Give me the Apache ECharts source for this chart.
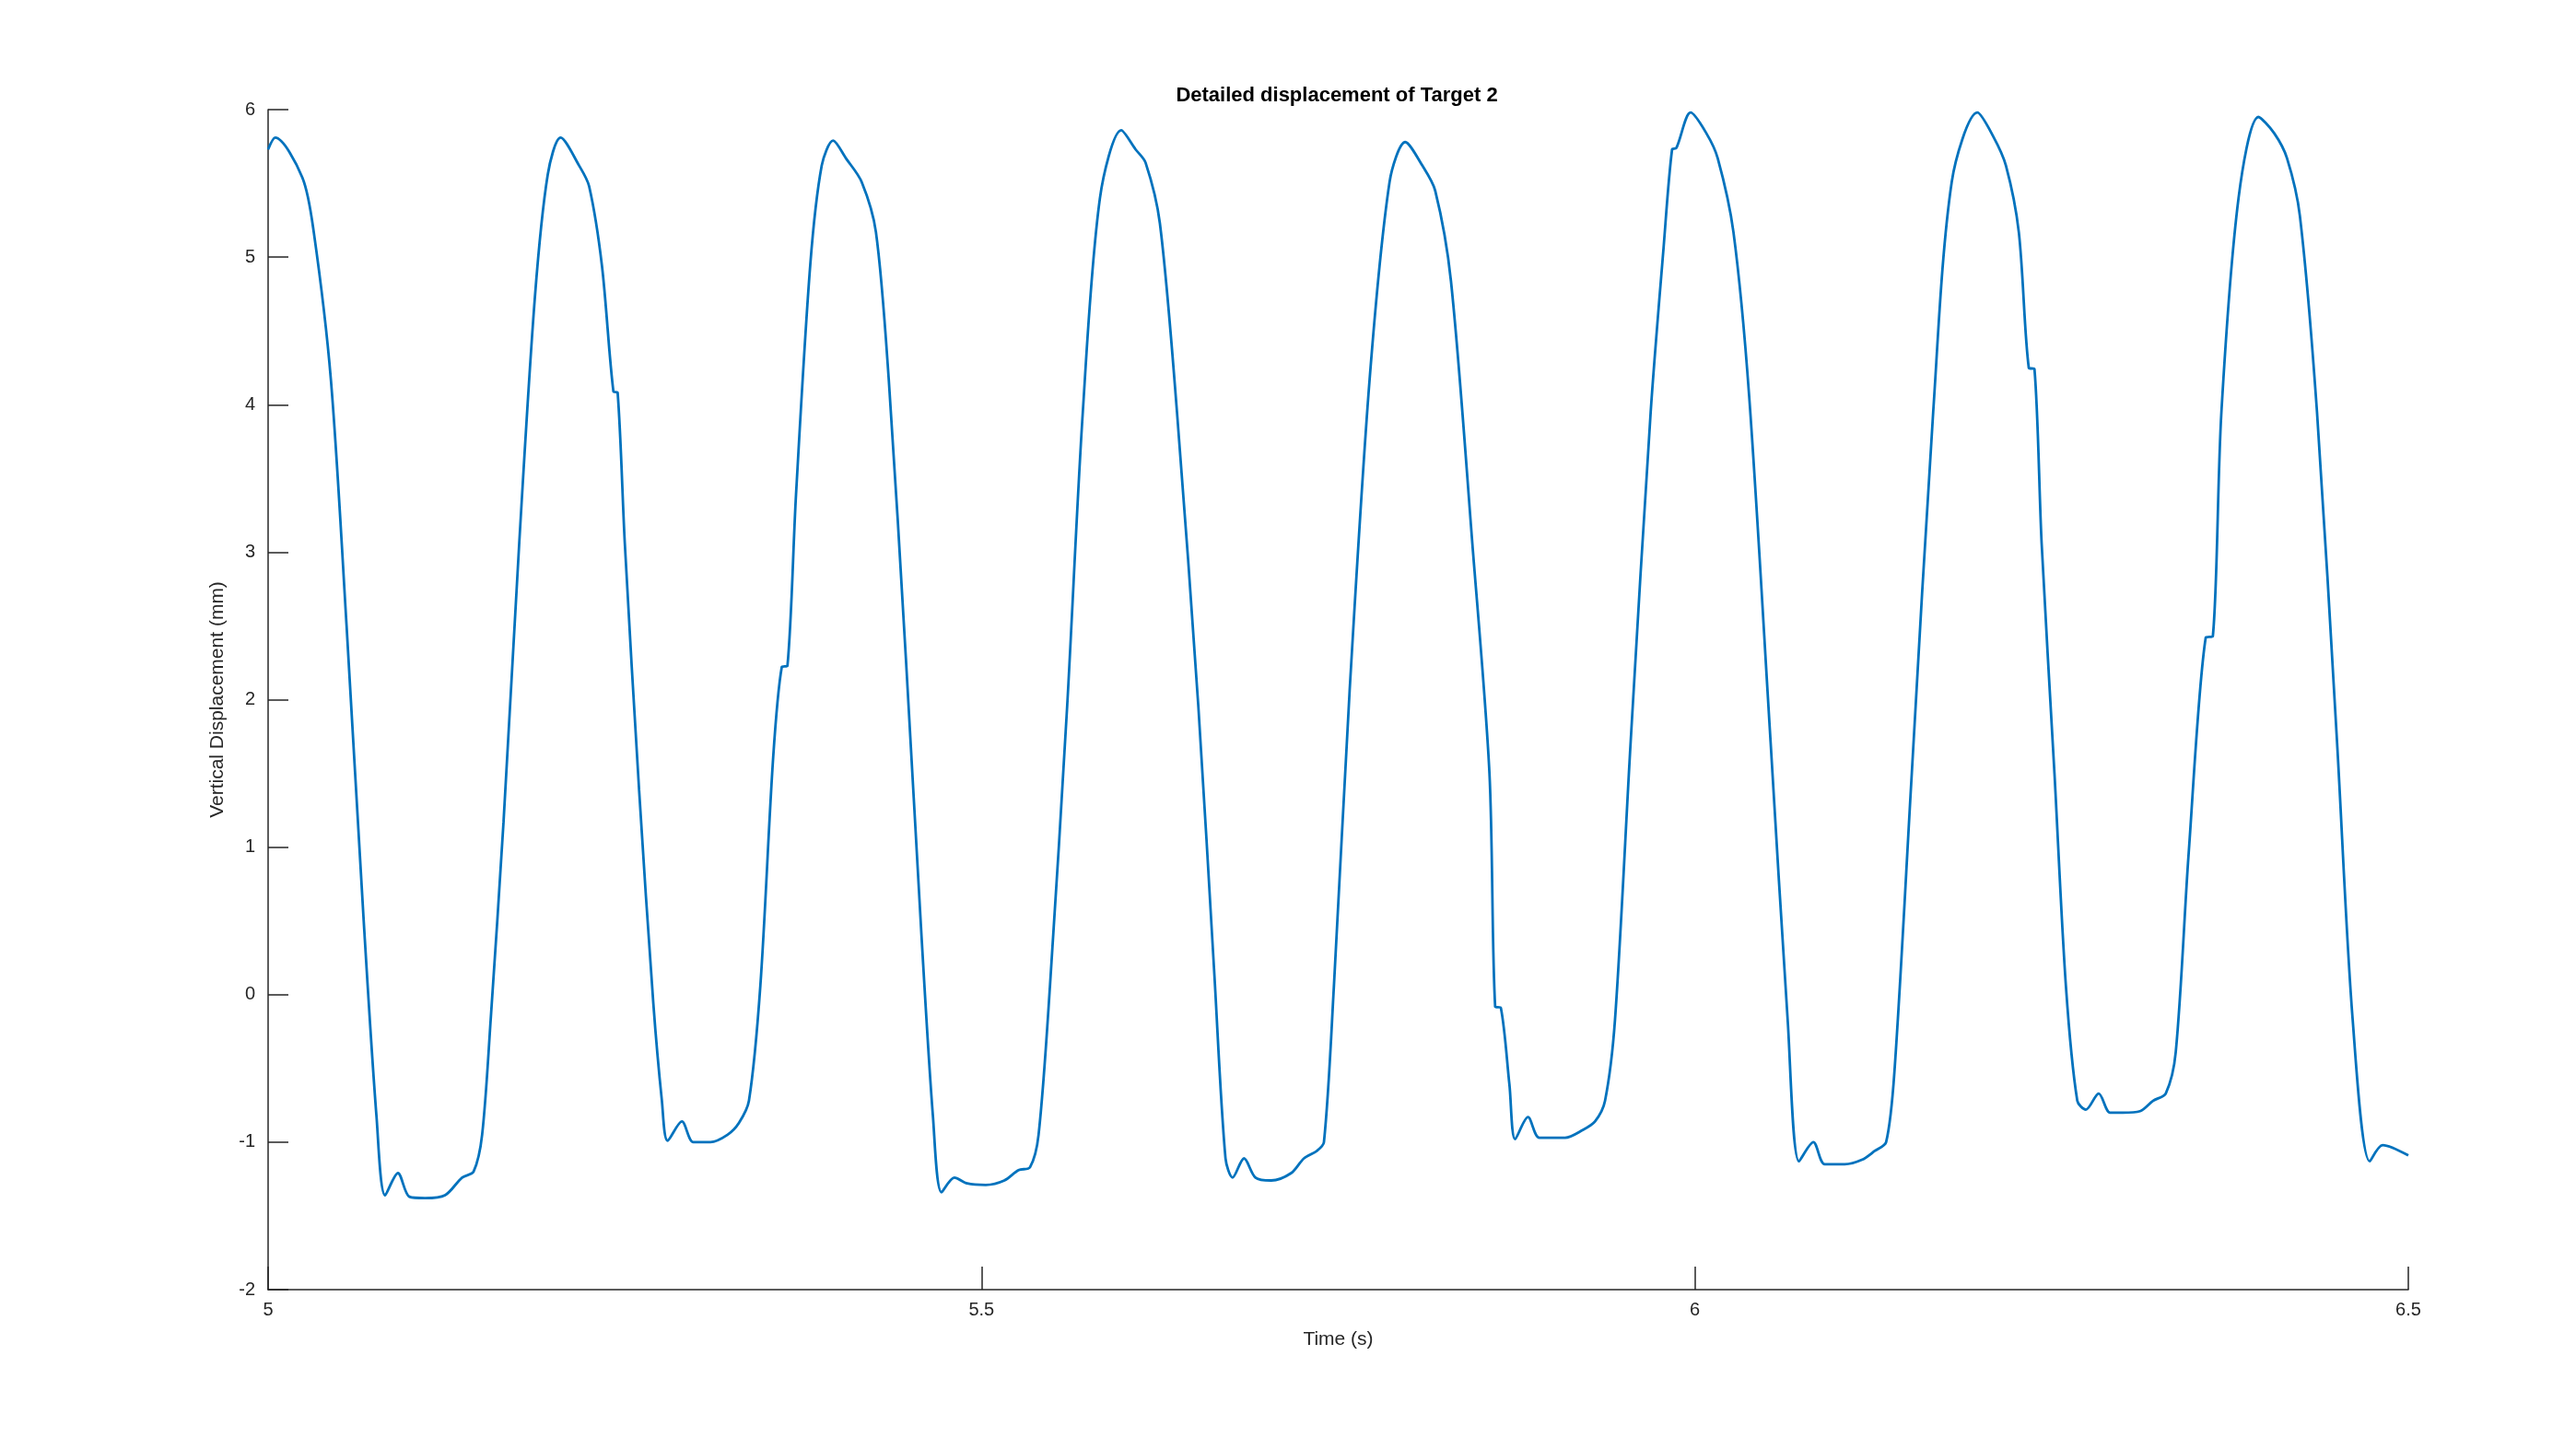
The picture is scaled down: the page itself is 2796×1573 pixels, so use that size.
<!DOCTYPE html>
<html>
<head>
<meta charset="utf-8">
<script src="https://cdn.jsdelivr.net/npm/echarts@6/dist/echarts.min.js"></script>
<style>html,body{margin:0;background:#fff}#c{width:2796px;height:1573px}</style>
</head>
<body>
<div id="c"></div>
<script>
// time (s) and vertical displacement (mm)
var times = [5.000,5.005,5.024,5.032,5.044,5.055,5.067,5.076,5.082,5.091,5.099,5.110,5.124,5.136,5.144,5.150,5.156,5.165,5.176,5.187,5.196,5.205,5.218,5.225,5.234,5.242,5.245,5.250,5.260,5.270,5.276,5.280,5.290,5.298,5.310,5.322,5.330,5.337,5.345,5.354,5.360,5.364,5.370,5.380,5.388,5.396,5.405,5.416,5.426,5.435,5.447,5.458,5.466,5.472,5.481,5.490,5.503,5.516,5.526,5.534,5.540,5.548,5.560,5.571,5.583,5.598,5.608,5.615,5.625,5.637,5.652,5.663,5.671,5.676,5.684,5.692,5.703,5.717,5.726,5.735,5.740,5.747,5.758,5.772,5.786,5.797,5.809,5.818,5.829,5.844,5.856,5.860,5.864,5.870,5.874,5.883,5.891,5.909,5.921,5.930,5.937,5.944,5.955,5.969,5.978,5.984,5.987,5.997,6.008,6.016,6.027,6.038,6.053,6.065,6.073,6.083,6.091,6.105,6.117,6.126,6.134,6.140,6.152,6.167,6.180,6.198,6.209,6.218,6.227,6.234,6.238,6.243,6.252,6.260,6.268,6.274,6.283,6.291,6.300,6.312,6.321,6.330,6.337,6.346,6.358,6.363,6.369,6.381,6.395,6.406,6.415,6.424,6.436,6.450,6.461,6.473,6.482,6.500];
var disp = [5.73,5.81,5.54,5.17,4.17,2.50,0.50,-0.83,-1.36,-1.21,-1.37,-1.38,-1.36,-1.24,-1.20,-0.95,-0.17,1.17,3.06,4.73,5.56,5.81,5.62,5.48,4.94,4.09,4.08,3.06,1.39,-0.06,-0.72,-0.99,-0.86,-1.00,-1.00,-0.95,-0.87,-0.72,0.06,1.61,2.22,2.23,3.39,4.95,5.62,5.79,5.67,5.51,5.17,4.17,2.28,0.39,-0.83,-1.34,-1.24,-1.28,-1.29,-1.26,-1.19,-1.17,-0.95,0.06,1.95,3.95,5.40,5.86,5.73,5.64,5.23,3.95,1.95,0.17,-1.11,-1.24,-1.11,-1.24,-1.26,-1.21,-1.11,-1.06,-1.00,0.06,2.06,4.17,5.51,5.78,5.62,5.45,4.84,3.06,1.50,-0.08,-0.09,-0.61,-0.98,-0.83,-0.97,-0.97,-0.92,-0.86,-0.72,-0.17,1.72,3.95,5.06,5.73,5.74,5.98,5.84,5.67,5.17,4.06,1.72,-0.17,-1.13,-1.00,-1.15,-1.15,-1.12,-1.06,-1.00,-0.50,1.50,3.95,5.51,5.98,5.82,5.62,5.17,4.25,4.24,3.06,1.50,0.06,-0.72,-0.78,-0.67,-0.80,-0.80,-0.79,-0.72,-0.67,-0.39,0.95,2.42,2.43,3.95,5.40,5.95,5.84,5.67,5.28,3.95,1.72,-0.17,-1.13,-1.02,-1.09];

var pts = times.map(function (t, i) { return [t, disp[i]]; });
var font = 'Liberation Sans, Arial, sans-serif';
var chart = echarts.init(document.getElementById('c'));
chart.setOption({
    animation: false,
    title: {
        text: 'Detailed displacement of Target 2',
        left: 1446, top: 88, textAlign: 'center',
        textStyle: { fontFamily: font, fontSize: 22, fontWeight: 'bold', color: '#000' }
    },
    grid: { left: 291, right: 182, top: 119, bottom: 173 },
    xAxis: {
        type: 'value', min: 5, max: 6.5, interval: 0.5,
        name: 'Time (s)', nameLocation: 'middle', nameGap: 44,
        nameTextStyle: { fontFamily: font, fontSize: 21, color: '#262626' },
        axisLine: { onZero: false, lineStyle: { color: '#262626', width: 1.5 } },
        axisTick: { inside: true, length: 25, lineStyle: { color: '#262626', width: 1.5 } },
        axisLabel: { fontFamily: font, fontSize: 20, color: '#262626', margin: 12 },
        splitLine: { show: false }
    },
    yAxis: {
        type: 'value', min: -2, max: 6, interval: 1,
        name: 'Vertical Displacement (mm)', nameLocation: 'middle', nameGap: 44,
        nameTextStyle: { fontFamily: font, fontSize: 21, color: '#262626' },
        axisLine: { show: true, onZero: false, lineStyle: { color: '#262626', width: 1.5 } },
        axisTick: { show: true, inside: true, length: 22, lineStyle: { color: '#262626', width: 1.5 } },
        axisLabel: { fontFamily: font, fontSize: 20, color: '#262626', margin: 14 },
        splitLine: { show: false }
    },
    series: [{
        type: 'line', data: pts, showSymbol: false, smooth: 0.3,
        lineStyle: { color: '#0072BD', width: 2.8 }
    }]
});
</script>
</body>
</html>
